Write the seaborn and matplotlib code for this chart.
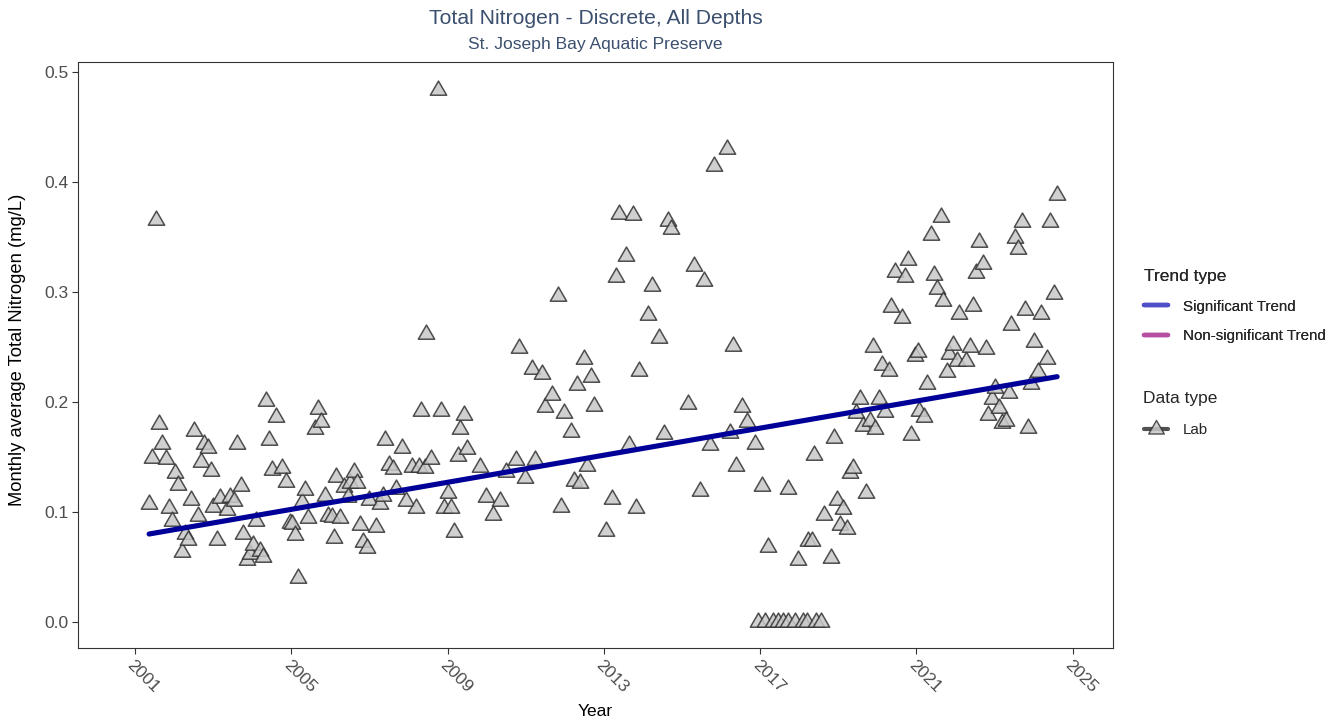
import numpy as np
import pandas as pd
import matplotlib
matplotlib.use("Agg")
import matplotlib.pyplot as plt
from matplotlib.path import Path
from matplotlib.lines import Line2D
import seaborn as sns

# Monthly average total nitrogen (mg/L), decimal year vs value
years = [
    2001.36, 2001.44, 2001.53, 2001.61, 2001.70, 2001.78, 2001.86, 2001.95,
    2002.03, 2002.11, 2002.19, 2002.27, 2002.36, 2002.44, 2002.52, 2002.61,
    2002.69, 2002.77, 2002.86, 2002.94, 2003.00, 2003.11, 2003.18, 2003.35,
    2003.44, 2003.53, 2003.60, 2003.70, 2003.76, 2003.86, 2003.93, 2004.02,
    2004.10, 2004.19, 2004.28, 2004.35, 2004.43, 2004.51, 2004.60, 2004.77,
    2004.86, 2004.97, 2005.02, 2005.09, 2005.18, 2005.27, 2005.35, 2005.43,
    2005.61, 2005.67, 2005.76, 2005.85, 2005.95, 2006.04, 2006.09, 2006.15,
    2006.25, 2006.34, 2006.45, 2006.51, 2006.60, 2006.68, 2006.75, 2006.83,
    2006.93, 2007.00, 2007.17, 2007.26, 2007.35, 2007.41, 2007.50, 2007.60,
    2007.67, 2007.84, 2007.93, 2008.10, 2008.18, 2008.27, 2008.33, 2008.41,
    2008.45, 2008.58, 2008.75, 2008.83, 2008.92, 2009.00, 2009.09, 2009.16,
    2009.26, 2009.32, 2009.41, 2009.49, 2009.83, 2009.99, 2010.16, 2010.33,
    2010.49, 2010.75, 2010.83, 2010.99, 2011.16, 2011.24, 2011.41, 2011.49,
    2011.66, 2011.82, 2011.90, 2011.99, 2012.15, 2012.23, 2012.32, 2012.40,
    2012.49, 2012.57, 2012.66, 2012.74, 2013.06, 2013.22, 2013.32, 2013.39,
    2013.56, 2013.64, 2013.74, 2013.81, 2013.90, 2014.14, 2014.24, 2014.40,
    2014.55, 2014.65, 2014.73, 2015.14, 2015.30, 2015.47, 2015.55, 2015.72,
    2015.81, 2016.14, 2016.22, 2016.30, 2016.39, 2016.54, 2016.65, 2016.88,
    2016.95, 2017.04, 2017.12, 2017.21, 2017.33, 2017.46, 2017.59, 2017.71,
    2017.72, 2017.89, 2017.97, 2018.10, 2018.19, 2018.23, 2018.32, 2018.37,
    2018.44, 2018.55, 2018.63, 2018.80, 2018.88, 2018.96, 2019.04, 2019.12,
    2019.21, 2019.30, 2019.38, 2019.45, 2019.55, 2019.62, 2019.71, 2019.81,
    2019.88, 2019.95, 2020.03, 2020.11, 2020.20, 2020.29, 2020.36, 2020.45,
    2020.62, 2020.70, 2020.79, 2020.86, 2020.96, 2021.05, 2021.07, 2021.20,
    2021.28, 2021.37, 2021.45, 2021.53, 2021.62, 2021.69, 2021.78, 2021.83,
    2021.94, 2022.03, 2022.10, 2022.28, 2022.37, 2022.44, 2022.53, 2022.61,
    2022.69, 2022.78, 2022.84, 2022.93, 2023.02, 2023.10, 2023.19, 2023.28,
    2023.36, 2023.43, 2023.52, 2023.60, 2023.69, 2023.77, 2023.85, 2023.94,
    2024.01, 2024.10, 2024.19, 2024.35, 2024.43, 2024.52, 2024.60,
]
values = [
    0.107, 0.149, 0.365, 0.180, 0.162, 0.148, 0.104, 0.092,
    0.135, 0.125, 0.064, 0.080, 0.075, 0.111, 0.174, 0.096,
    0.145, 0.162, 0.158, 0.137, 0.105, 0.075, 0.113, 0.102,
    0.114, 0.110, 0.162, 0.124, 0.080, 0.056, 0.062, 0.070,
    0.092, 0.065, 0.059, 0.201, 0.165, 0.138, 0.186, 0.140,
    0.127, 0.090, 0.089, 0.079, 0.040, 0.109, 0.120, 0.095,
    0.175, 0.194, 0.182, 0.115, 0.096, 0.0955, 0.076, 0.132,
    0.095, 0.123, 0.114, 0.126, 0.136, 0.126, 0.088, 0.073,
    0.067, 0.111, 0.086, 0.107, 0.115, 0.165, 0.143, 0.139,
    0.121, 0.158, 0.110, 0.141, 0.104, 0.141, 0.192, 0.140,
    0.262, 0.1485, 0.484, 0.192, 0.104, 0.117, 0.104, 0.082,
    0.151, 0.175, 0.188, 0.157, 0.141, 0.114, 0.097, 0.110,
    0.136, 0.147, 0.249, 0.131, 0.230, 0.147, 0.225, 0.195,
    0.206, 0.296, 0.105, 0.190, 0.173, 0.128, 0.215, 0.126,
    0.239, 0.142, 0.223, 0.196, 0.083, 0.112, 0.314, 0.371,
    0.333, 0.161, 0.370, 0.104, 0.228, 0.279, 0.305, 0.258,
    0.171, 0.3645, 0.3575, 0.198, 0.324, 0.119, 0.310, 0.161,
    0.4145, 0.430, 0.172, 0.251, 0.142, 0.195, 0.182, 0.162,
    0.0, 0.124, 0.0, 0.068, 0.0, 0.0, 0.0, 0.121,
    0.0, 0.0, 0.056, 0.0, 0.0, 0.074, 0.074, 0.152,
    0.0, 0.0, 0.097, 0.058, 0.167, 0.111, 0.0885, 0.103,
    0.085, 0.135, 0.140, 0.190, 0.203, 0.178, 0.117, 0.183,
    0.250, 0.175, 0.203, 0.234, 0.191, 0.228, 0.286, 0.318,
    0.276, 0.314, 0.329, 0.170, 0.242, 0.245, 0.192, 0.186,
    0.216, 0.3515, 0.315, 0.303, 0.368, 0.292, 0.227, 0.244,
    0.2515, 0.237, 0.280, 0.237, 0.250, 0.287, 0.3175, 0.3455,
    0.325, 0.248, 0.188, 0.203, 0.213, 0.1945, 0.181, 0.183,
    0.208, 0.270, 0.349, 0.339, 0.364, 0.284, 0.176, 0.216,
    0.2545, 0.227, 0.280, 0.239, 0.364, 0.298, 0.388,
]

# Fitted trend line end points
trend_years = [2001.36, 2024.60]
trend_values = [0.080, 0.223]

x_ticks = [2001, 2005, 2009, 2013, 2017, 2021, 2025]
y_ticks = [0.0, 0.1, 0.2, 0.3, 0.4, 0.5]

trend_labels = ["Significant Trend", "Non-significant Trend"]
trend_colors = ["#4f4fc8", "#b4509f"]
data_label = "Lab"

points = pd.DataFrame({"year": years, "value": values})
trend = pd.DataFrame({"year": trend_years, "value": trend_values})

sns.set_theme(style="white")
plt.rcParams["font.family"] = ["Liberation Sans", "DejaVu Sans"]

fig = plt.figure(figsize=(13.4, 7.25), dpi=100)
ax = fig.add_axes([78 / 1340, 1 - 648 / 725, (1113 - 78) / 1340, (648 - 62) / 725])

# Equilateral triangle centred on its centroid
tri = Path([(0, 1), (0.866, -0.5), (-0.866, -0.5), (0, 1)], closed=True)

sns.scatterplot(data=points, x="year", y="value", ax=ax, marker=tri, s=185,
                color="#c8c8c8", edgecolor="#333333", linewidth=1.1,
                alpha=0.85, legend=False, zorder=2)
sns.lineplot(data=trend, x="year", y="value", ax=ax, color="#000099",
             linewidth=3.7, legend=False, zorder=3)

ax.set_xlim(1999.54, 2026.03)
ax.set_ylim(-0.0236, 0.509)
ax.set_xticks(x_ticks)
ax.set_xticklabels([str(t) for t in x_ticks])
ax.set_yticks(y_ticks)
ax.set_yticklabels([f"{t:.1f}" for t in y_ticks])
ax.set_xlabel("")
ax.set_ylabel("")

for sp in ax.spines.values():
    sp.set_color("#333333")
    sp.set_linewidth(0.8)
ax.tick_params(axis="both", which="major", direction="out", length=4,
               width=0.8, color="#333333", labelcolor="#4d4d4d",
               labelsize=12.5, pad=3, bottom=True, left=True)
plt.setp(ax.get_xticklabels(), rotation=-45, ha="left", va="top",
         rotation_mode="anchor")

# Titles and axis labels
cx = (78 + 1113) / 2 / 1340
fig.text(cx, 1 - 18 / 725, "Total Nitrogen - Discrete, All Depths",
         ha="center", va="center", fontsize=15.2, color="#3b4f6e")
fig.text(cx, 1 - 45 / 725, "St. Joseph Bay Aquatic Preserve",
         ha="center", va="center", fontsize=12.6, color="#3b4f6e")
fig.text(cx, 1 - 712 / 725, "Year", ha="center", va="center",
         fontsize=12.5, color="black")
fig.text(18 / 1340, 1 - 350 / 725, "Monthly average Total Nitrogen (mg/L)",
         ha="center", va="center", rotation=90, fontsize=13.2, color="black")

# Legends
trend_handles = [Line2D([0], [0], color=c, lw=3.2) for c in trend_colors]
leg1 = fig.legend(trend_handles, trend_labels, title="Trend type",
                  loc="upper left", bbox_to_anchor=(1130 / 1340, 1 - 255 / 725),
                  frameon=False, fontsize=10.9, title_fontsize=12.5,
                  handlelength=1.6, handletextpad=1.0, labelspacing=1.05,
                  alignment="left")

fig.text(1143 / 1340, 1 - 398 / 725, "Data type", ha="left", va="center",
         fontsize=12.5, color="#262626")
lab_handle = Line2D([0], [0], color="#333333", lw=3, alpha=0.85,
                    marker=tri, markersize=13, markerfacecolor="#c8c8c8",
                    markeredgecolor="#333333", markeredgewidth=1.0)
leg2 = fig.legend([lab_handle], [data_label], loc="center left",
                  bbox_to_anchor=(1130 / 1340, 1 - 430 / 725),
                  frameon=False, fontsize=10.9,
                  handlelength=1.6, handletextpad=1.0)
fig.add_artist(leg1)

fig.savefig("out.png", dpi=100)
